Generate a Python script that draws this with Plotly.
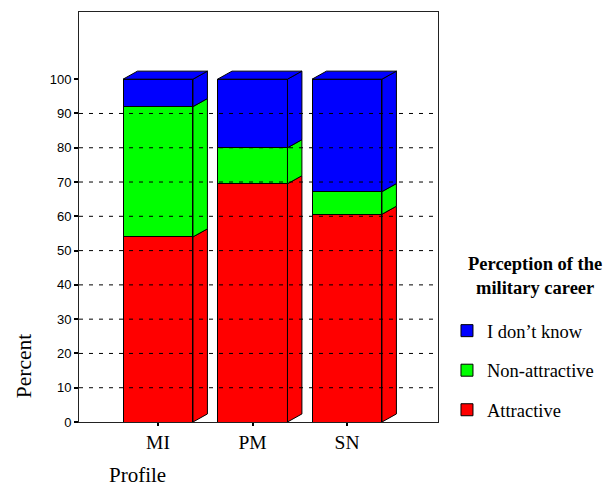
import plotly.graph_objects as go

# ---- data ----
CATEGORIES = ["MI", "PM", "SN"]
ATTRACTIVE = [54.0, 69.5, 60.6]
NON_ATTRACTIVE = [38.0, 10.5, 6.6]
DONT_KNOW = [8.0, 20.0, 32.8]
SERIES_NAMES = ["Attractive", "Non-attractive", "I don\u2019t know"]
SERIES_COLORS = ["#FF0000", "#00FF00", "#0000FF"]
LEGEND_RANKS = [3, 2, 1]
Y_TICKS = [0, 10, 20, 30, 40, 50, 60, 70, 80, 90, 100]
GRID_VALUES = [10, 20, 30, 40, 50, 60, 70, 80, 90]
LEGEND_TITLE = "Perception of the<br>military career"

# ---- style constants ----
BAR_W = 0.74      # front face width (category units)
DEPTH_X = 0.153   # 3D depth offset (category units)
DEPTH_Y = 2.35    # 3D depth offset (percent units)
SERIF = "Liberation Serif, Times New Roman, serif"
SANS = "Liberation Sans, Arial, sans-serif"

xpos = list(range(len(CATEGORIES)))
series = [ATTRACTIVE, NON_ATTRACTIVE, DONT_KNOW]

fig = go.Figure()

for name, vals, col, rank in zip(SERIES_NAMES, series, SERIES_COLORS, LEGEND_RANKS):
    fig.add_trace(go.Bar(
        x=xpos, y=vals, name=name, width=BAR_W,
        marker=dict(color=col, line=dict(color="black", width=1)),
        legendgroup=name, legendrank=rank,
    ))

# side faces and top faces for pseudo-3D
for i, xc in enumerate(xpos):
    xr = xc + BAR_W / 2
    xl = xc - BAR_W / 2
    base = 0.0
    for s_idx, vals in enumerate(series):
        top = base + vals[i]
        fig.add_trace(go.Scatter(
            x=[xr, xr + DEPTH_X, xr + DEPTH_X, xr, xr],
            y=[base, base + DEPTH_Y, top + DEPTH_Y, top, base],
            mode="lines", fill="toself", fillcolor=SERIES_COLORS[s_idx],
            line=dict(color="black", width=1),
            showlegend=False, hoverinfo="skip",
        ))
        base = top
    # top face
    fig.add_trace(go.Scatter(
        x=[xl, xl + DEPTH_X, xr + DEPTH_X, xr, xl],
        y=[base, base + DEPTH_Y, base + DEPTH_Y, base, base],
        mode="lines", fill="toself", fillcolor=SERIES_COLORS[-1],
        line=dict(color="black", width=1),
        showlegend=False, hoverinfo="skip",
    ))

shapes = [
    dict(type="line", xref="paper", x0=0, x1=1, yref="y", y0=v, y1=v,
         layer="above", line=dict(color="black", width=1, dash="4px,6px"))
    for v in GRID_VALUES
]

fig.update_layout(
    width=611, height=488,
    margin=dict(l=79, r=173, t=12, b=66),
    paper_bgcolor="white", plot_bgcolor="white",
    barmode="stack",
    showlegend=True,
    shapes=shapes,
    legend=dict(
        x=1.025, xanchor="left", y=0.268, yanchor="top",
        traceorder="grouped", tracegroupgap=12.5,
        font=dict(family=SERIF, size=18.5, color="black"),
        bgcolor="rgba(0,0,0,0)",
    ),
    xaxis=dict(
        range=[-0.836, 2.963], tickvals=xpos, ticktext=CATEGORIES,
        showgrid=False, zeroline=False,
        showline=True, mirror=True, linecolor="#222", linewidth=1,
        ticks="outside", ticklen=3, tickwidth=2, tickcolor="black",
        tickfont=dict(family=SERIF, size=19.5, color="black"),
    ),
    yaxis=dict(
        range=[0, 119.6], tickvals=Y_TICKS,
        showgrid=False, zeroline=False,
        showline=True, mirror=True, linecolor="#222", linewidth=1,
        ticks="outside", ticklen=4, tickwidth=2, tickcolor="black",
        tickfont=dict(family=SANS, size=13, color="black"),
    ),
    annotations=[
        dict(text="Percent", xref="paper", yref="paper", x=-0.155, y=0.137,
             xanchor="center", yanchor="middle",
             textangle=-90, showarrow=False,
             font=dict(family=SERIF, size=21.5, color="black")),
        dict(text="Profile", xref="paper", yref="paper", x=0.162, y=-0.130,
             xanchor="center", yanchor="middle", showarrow=False,
             font=dict(family=SERIF, size=21, color="black")),
        dict(text="<b>" + LEGEND_TITLE + "</b>", xref="paper", yref="paper",
             x=1.270, y=0.356, xanchor="center", yanchor="middle",
             align="center", showarrow=False,
             font=dict(family=SERIF, size=18.5, color="black")),
    ],
)

fig.write_html("out.html")
